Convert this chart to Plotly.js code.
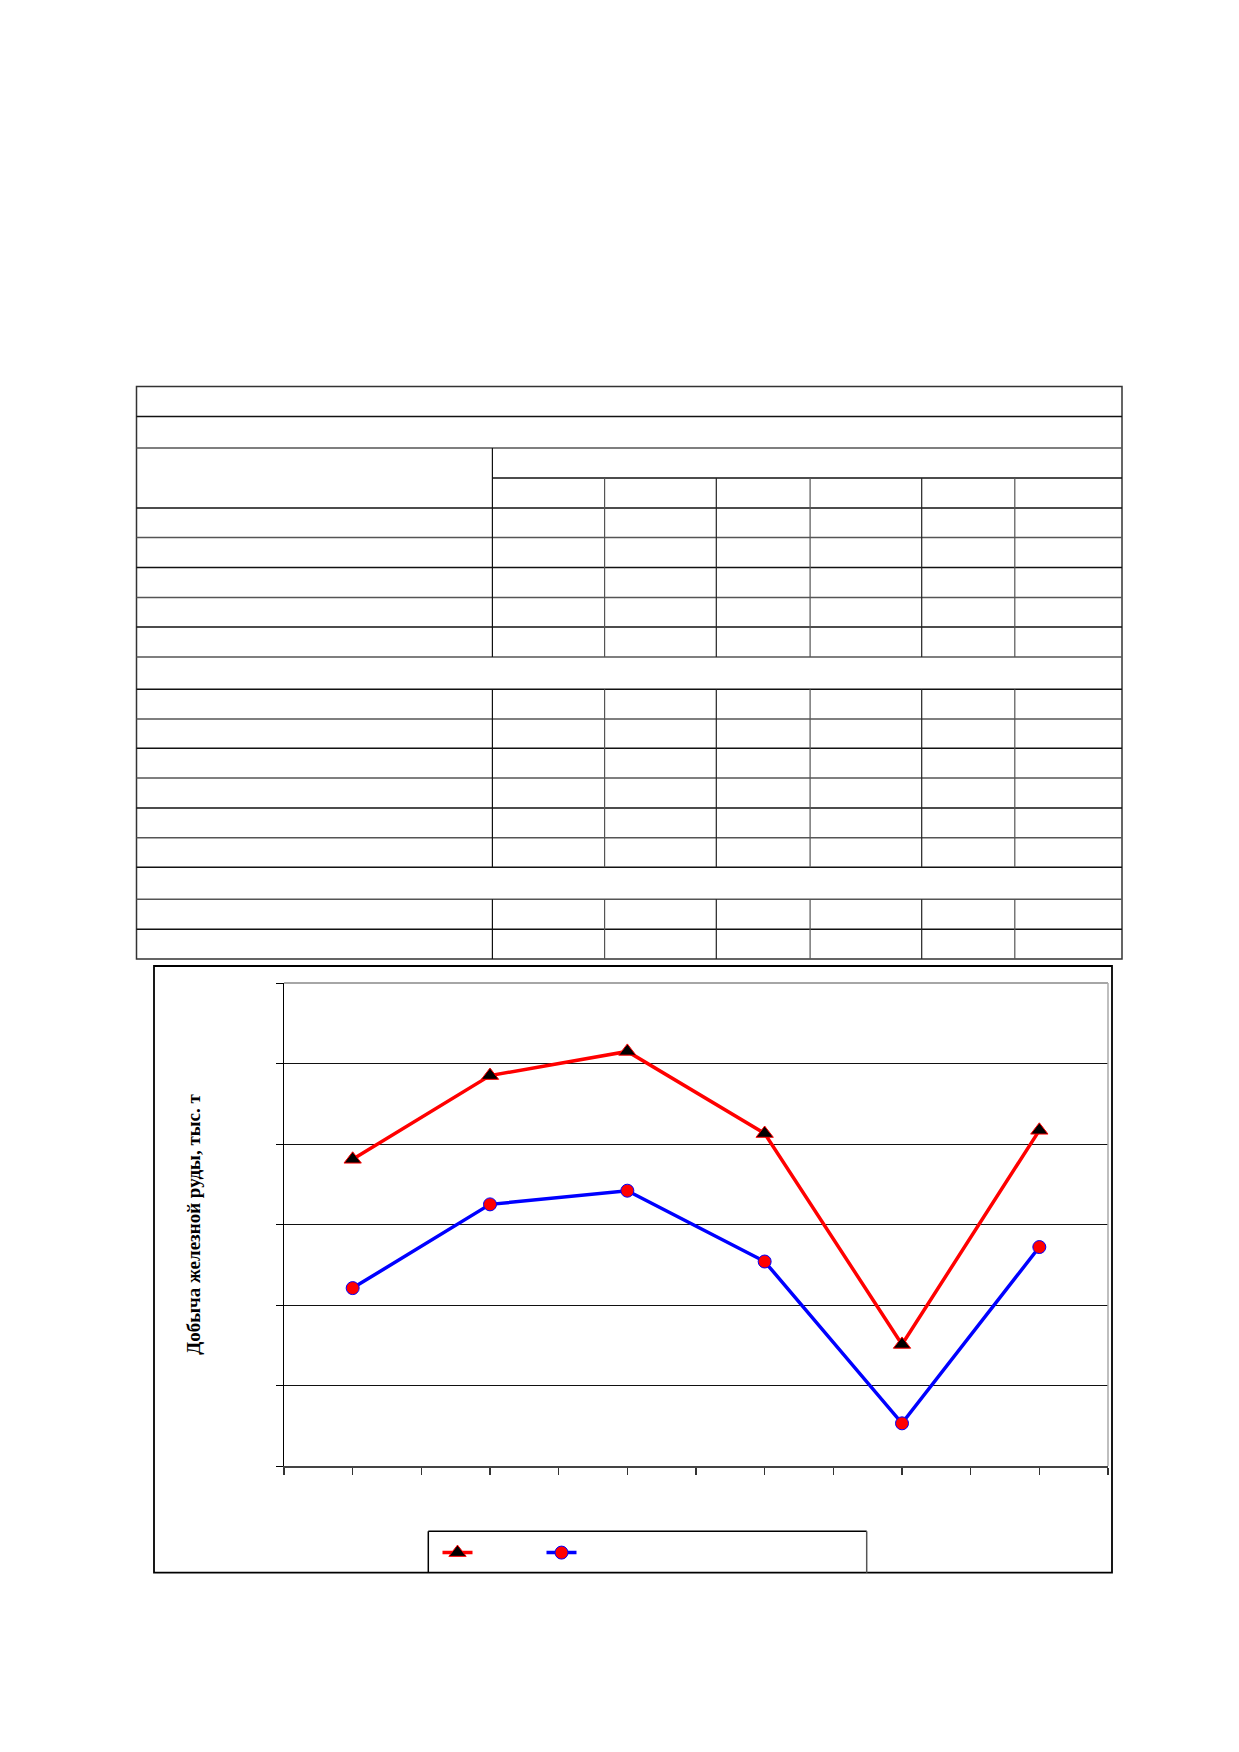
<!DOCTYPE html>
<html>
<head>
<meta charset="utf-8">
<script src="https://cdn.plot.ly/plotly-3.0.1.min.js"></script>
<style>
html,body{margin:0;padding:0;background:#fff;}
#chart{width:1239px;height:1752px;}
</style>
</head>
<body>
<div id="chart"></div>
<script>
// ---- data ----
const categories = [0, 1, 2, 3, 4, 5];
const seriesRed  = [3.81, 4.85, 5.15, 4.13, 1.51, 4.17];
const seriesBlue = [2.21, 3.25, 3.42, 2.54, 0.53, 2.72];
const yTitle = 'Добыча железной руды, тыс. т';

// ---- page geometry (pixels) ----
const L = 284, R = 1108, T = 983, B = 1466;
const W = 1239, H = 1752;
const xp = px => (px - L) / (R - L);
const yp = py => (B - py) / (B - T);

const shapes = [];
function hline(x0, x1, y, color, w) {
  shapes.push({type:'line', xref:'paper', yref:'paper', x0:xp(x0), x1:xp(x1), y0:yp(y), y1:yp(y),
    line:{color:color||'#222', width:w||1.5}});
}
function vline(x, y0, y1, color, w) {
  shapes.push({type:'line', xref:'paper', yref:'paper', x0:xp(x), x1:xp(x), y0:yp(y0), y1:yp(y1),
    line:{color:color||'#222', width:w||1.5}});
}
function rect(x0, y0, x1, y1, color, w) {
  shapes.push({type:'rect', xref:'paper', yref:'paper', x0:xp(x0), x1:xp(x1), y0:yp(y0), y1:yp(y1),
    line:{color:color||'#000', width:w||1.5}, fillcolor:'rgba(0,0,0,0)'});
}

// ---- empty table above the chart ----
const tL = 136.5, tR = 1122, tT = 386.5, tB = 959;
rect(tL, tT, tR, tB, '#333', 1.5);
const fullRows = [416.5, 448, 508, 537.5, 567.5, 597.5, 627, 657, 689.3, 719, 748.3, 778, 808, 837.7, 867.3, 899.3, 929.3];
fullRows.forEach((y, i) => hline(tL, tR, y, i % 2 ? '#555' : '#111', 1.5));
hline(492.4, tR, 478, '#111', 1.5);
const segs = [[689.3, 867.3], [899.3, 959]];
vline(492.4, 448, 657, '#111', 1.2);
segs.forEach(s => vline(492.4, s[0], s[1], '#111', 1.2));
[604.6, 716.3, 810.1, 921.7, 1014.8].forEach((x, i) => {
  const c = i % 2 ? '#222' : '#555';
  vline(x, 478, 657, c, 1.2);
  segs.forEach(s => vline(x, s[0], s[1], c, 1.2));
});

// ---- chart frame, plot-area border, legend box ----
rect(154, 966, 1112, 1572.7, '#000', 1.8);
hline(L, R, T, '#888', 1.5);
vline(R, T, B, '#aaa', 1.5);
hline(428.3, 866.7, 1531.3, '#000', 1.5);
vline(428.3, 1531.3, 1572.7, '#000', 1.5);
vline(866.7, 1531.3, 1572.7, '#555', 1.5);

const traces = [
  {x: categories, y: seriesRed, type:'scatter', mode:'lines+markers', name:' ',
   line:{color:'#ff0000', width:3.5},
   marker:{symbol:'triangle-up', size:15, color:'#000000', line:{color:'#ff0000', width:1}}},
  {x: categories, y: seriesBlue, type:'scatter', mode:'lines+markers', name:' ',
   line:{color:'#0000ff', width:3.5},
   marker:{symbol:'circle', size:13, color:'#ff0000', line:{color:'#0000ff', width:1}}}
];

const layout = {
  width: W, height: H, autosize: false,
  margin: {l: L, r: W - R, t: T, b: H - B, pad: 0},
  paper_bgcolor: '#fff', plot_bgcolor: '#fff',
  showlegend: true,
  legend: {orientation:'h', x: xp(437.5), y: yp(1537), xanchor:'left', yanchor:'top',
    bgcolor:'rgba(0,0,0,0)', borderwidth:0, entrywidth:59, entrywidthmode:'pixels',
    font:{family:'Liberation Serif', size:14, color:'#000'}},
  xaxis: {range:[-0.5, 5.5], tick0:-0.5, dtick:0.5, showticklabels:false, showgrid:false, zeroline:false,
    showline:true, linecolor:'#444', linewidth:2, ticks:'outside', ticklen:7, tickcolor:'#333', tickwidth:1.2,
    fixedrange:true},
  yaxis: {range:[0, 6], tick0:0, dtick:1, showticklabels:false, showgrid:true, gridcolor:'#111', gridwidth:1,
    zeroline:false, showline:true, linecolor:'#000', linewidth:1.5, ticks:'outside', ticklen:7, tickcolor:'#000',
    fixedrange:true,
    title:{text: yTitle, standoff: 70, font:{family:'Liberation Serif', size:19, color:'#000', weight:'bold'}}},
  shapes: shapes
};

Plotly.newPlot('chart', traces, layout, {displayModeBar:false, staticPlot:true});
</script>
</body>
</html>
